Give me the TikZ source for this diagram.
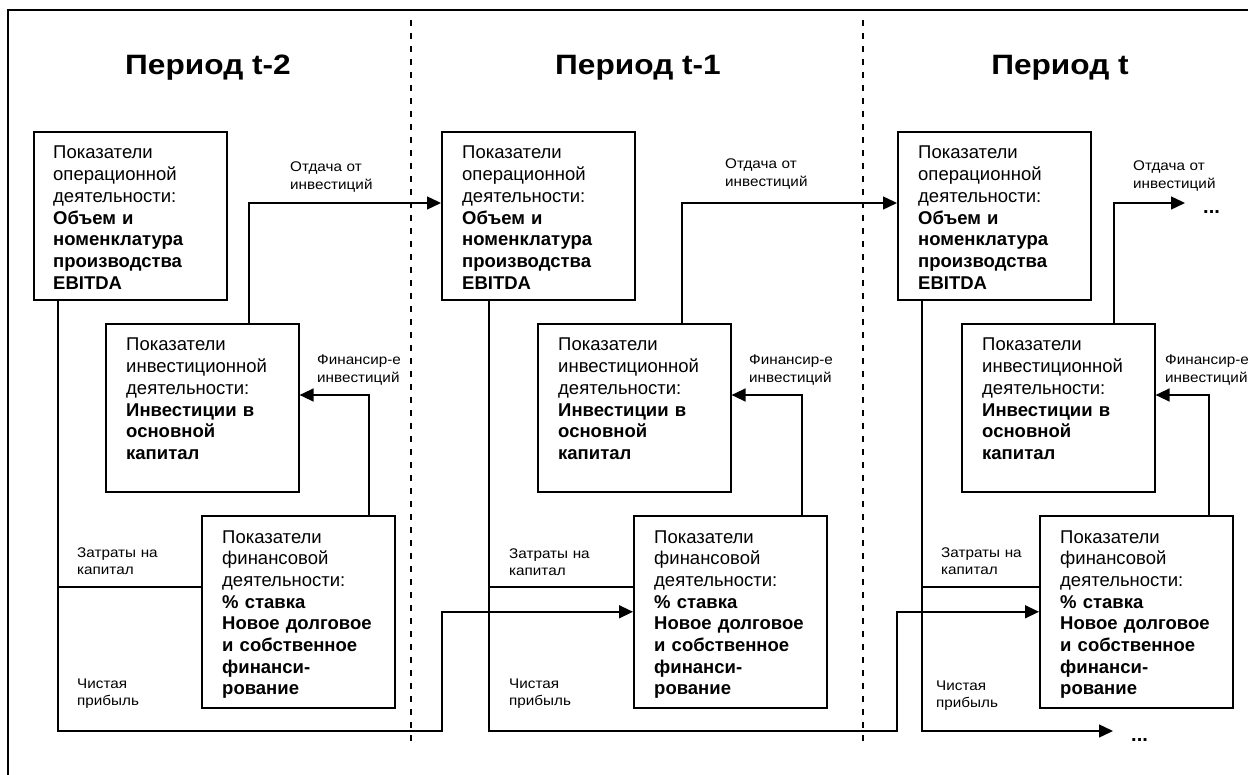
\documentclass[tikz,border=0pt]{standalone}
\usepackage{fontspec}
\setmainfont{Liberation Sans}
\newfontfamily\hdrfont{Liberation Sans}[FakeStretch=1.13]
\newfontfamily\lblfont{Liberation Sans}[FakeStretch=1.09]
\usetikzlibrary{arrows.meta,calc}
\tikzset{
  box/.style={draw, line width=1.6pt, minimum width=193pt, minimum height=168pt, anchor=north west, inner sep=0pt},
  fbox/.style={box, minimum height=192pt},
  btext/.style={anchor=base west, inner sep=0pt, text width=200pt, align=left, font=\fontsize{18.5}{21.7}\selectfont},
  lbl/.style={anchor=base west, inner sep=0pt, text width=120pt, align=left, font=\lblfont\fontsize{14}{17.5}\selectfont},
  conn/.style={line width=1.4pt},
  arr/.style={conn, -{Triangle[length=14pt,width=13pt]}},
  hdr/.style={anchor=base, inner sep=0pt, font=\hdrfont\fontsize{28}{34}\selectfont\bfseries},
  divider/.style={line width=1.4pt, dash pattern=on 6pt off 7pt},
  dots/.style={anchor=base west, inner sep=0pt, font=\fontsize{20}{24}\selectfont\bfseries},
}
\newcommand{\opertext}{Показатели\\операционной\\деятельности:\\\textbf{Объем и}\\\textbf{номенклатура}\\\textbf{производства}\\\textbf{EBITDA}}
\newcommand{\investtext}{Показатели\\инвестиционной\\деятельности:\\\textbf{Инвестиции в}\\\textbf{основной}\\\textbf{капитал}}
\newcommand{\fintext}{Показатели\\финансовой\\деятельности:\\\textbf{\% ставка}\\\textbf{Новое долговое}\\\textbf{и собственное}\\\textbf{финанси-}\\\textbf{рование}}
\begin{document}
\begin{tikzpicture}[x=1pt,y=-1pt]
\useasboundingbox (0,0) rectangle (1248,775);
\fill[white] (0,0) rectangle (1248,775);
% frame
\draw[line width=1.8pt] (8,775) -- (8,10) -- (1248,10);
% dividers
\draw[divider] (411,20) -- (411,743);
\draw[divider] (863,20) -- (863,743);
% headers
\node[hdr] (h1) at (208,75) {Период t-2};
\node[hdr] (h2) at (638,75) {Период t-1};
\node[hdr] (h3) at (1060,75) {Период t};
% boxes period t-2
\node[box] (o1) at (33,131) {};
\node[box] (i1) at (105,323) {};
\node[fbox] (f1) at (201,515) {};
\node[btext] (o1t) at (53,159) {\opertext};
\node[btext] (i1t) at (126,351) {\investtext};
\node[btext] (f1t) at (222,543) {\fintext};
% boxes period t-1
\node[box] (o2) at (441,131) {};
\node[box] (i2) at (537,323) {};
\node[fbox] (f2) at (633,515) {};
\node[btext] (o2t) at (462,159) {\opertext};
\node[btext] (i2t) at (558,351) {\investtext};
\node[btext] (f2t) at (654,543) {\fintext};
% boxes period t
\node[box] (o3) at (897,131) {};
\node[box] (i3) at (961,323) {};
\node[fbox] (f3) at (1039,515) {};
\node[btext] (o3t) at (918,159) {\opertext};
\node[btext] (i3t) at (982,351) {\investtext};
\node[btext] (f3t) at (1060,543) {\fintext};
% coordinates
\coordinate (a1) at (58,731);  \coordinate (b1) at (442,731);
\coordinate (c1) at (58,587);  \coordinate (r1) at (249,203); \coordinate (q1) at (369,395);
\coordinate (a2) at (489,731); \coordinate (b2) at (897,731);
\coordinate (c2) at (489,587); \coordinate (r2) at (682,203); \coordinate (q2) at (802,395);
\coordinate (a3) at (922,731); \coordinate (e1) at (1113,731);
\coordinate (c3) at (922,587); \coordinate (r3) at (1114,203); \coordinate (e2) at (1185,203);
\coordinate (q3) at (1209,395);
% connectors t-2
\draw[arr] (o1.south -| a1) -- (a1) -- (b1) -- (b1 |- f2.west) -- (f2.west);
\draw[conn] (f1.west |- c1) -- (c1);
\draw[arr] (i1.north -| r1) -- (r1) -- (o2.west |- r1);
\draw[arr] (f1.north -| q1) -- (q1) -- (i1.east |- q1);
% connectors t-1
\draw[arr] (o2.south -| a2) -- (a2) -- (b2) -- (b2 |- f3.west) -- (f3.west);
\draw[conn] (f2.west |- c2) -- (c2);
\draw[arr] (i2.north -| r2) -- (r2) -- (o3.west |- r2);
\draw[arr] (f2.north -| q2) -- (q2) -- (i2.east |- q2);
% connectors t
\draw[arr] (o3.south -| a3) -- (a3) -- (e1);
\draw[conn] (f3.west |- c3) -- (c3);
\draw[arr] (i3.north -| r3) -- (r3) -- (e2);
\draw[arr] (f3.north -| q3) -- (q3) -- (i3.east |- q3);
\node[dots] (d1) at (1131,741) {...};
\node[dots] (d2) at (1203,214) {...};
% labels
\node[lbl] (l1a) at (290,172) {Отдача от\\инвестиций};
\node[lbl] (l1b) at (317,365) {Финансир-е\\инвестиций};
\node[lbl] (l1c) at (77,557) {Затраты на\\капитал};
\node[lbl] (l1d) at (77,688) {Чистая\\прибыль};
\node[lbl] (l2a) at (725,169) {Отдача от\\инвестиций};
\node[lbl] (l2b) at (749,365) {Финансир-е\\инвестиций};
\node[lbl] (l2c) at (509,558) {Затраты на\\капитал};
\node[lbl] (l2d) at (509,688) {Чистая\\прибыль};
\node[lbl] (l3a) at (1133,171) {Отдача от\\инвестиций};
\node[lbl] (l3b) at (1165,365) {Финансир-е\\инвестиций};
\node[lbl] (l3c) at (941,557) {Затраты на\\капитал};
\node[lbl] (l3d) at (936,690) {Чистая\\прибыль};
\end{tikzpicture}
\end{document}
